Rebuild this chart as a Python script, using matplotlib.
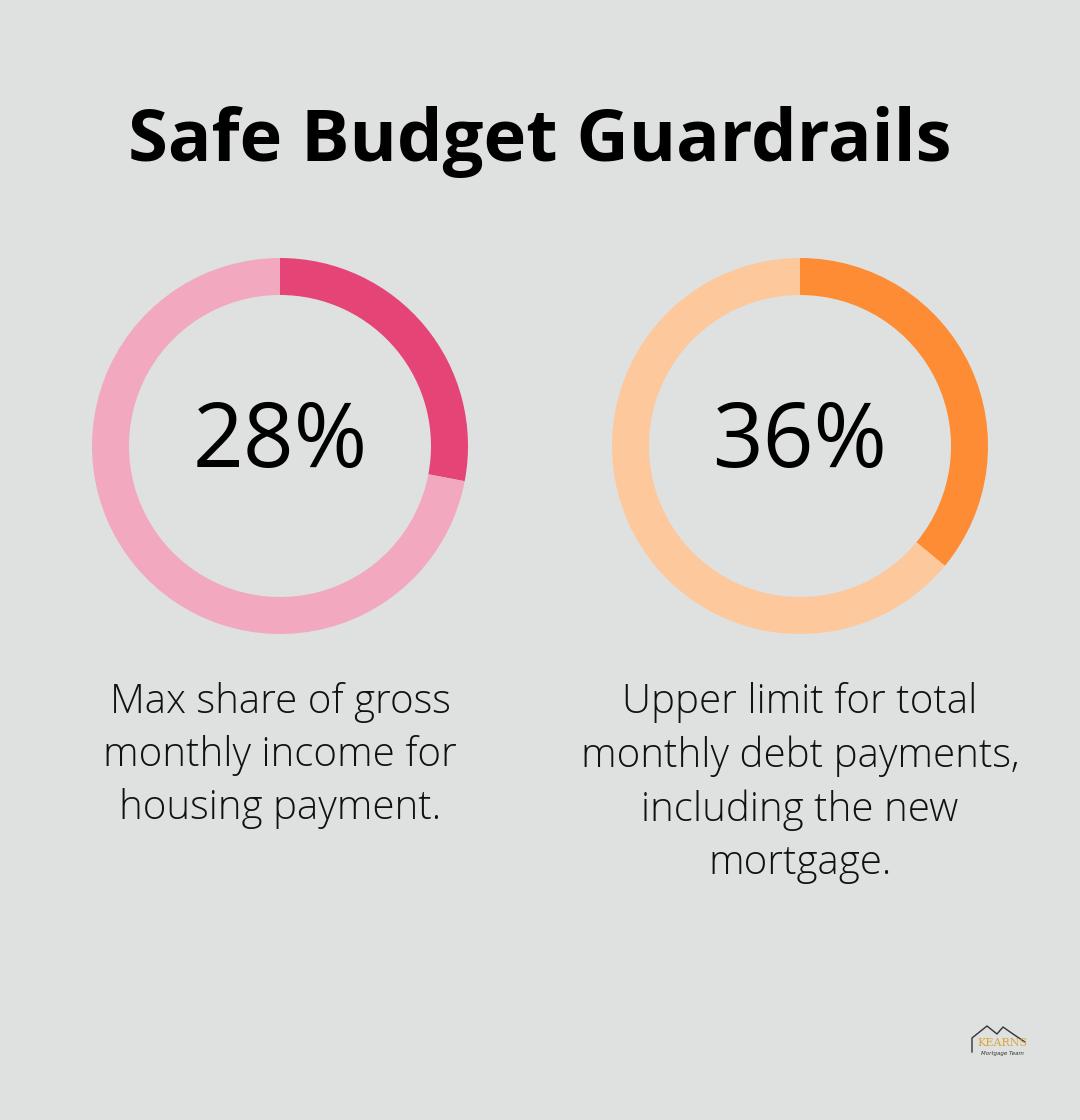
import matplotlib.pyplot as plt

# chart data
title = "Safe Budget Guardrails"
values = [28, 36]
labels = ["Max share of gross\nmonthly income for\nhousing payment.",
          "Upper limit for total\nmonthly debt payments,\nincluding the new\nmortgage."]
dark_colors = ["#E44476", "#FD8C35"]
light_colors = ["#F2A8BF", "#FEC89D"]
centers_x = [280, 800]

W, H = 1080, 1120
bg = "#DFE1E0"

fig = plt.figure(figsize=(W / 100, H / 100), dpi=100, facecolor=bg)
ax = fig.add_axes([0, 0, 1, 1])
ax.set_facecolor(bg)

ring_y = H - 446
R = 188
width = 37

for i, v in enumerate(values):
    ax.pie([v, 100 - v], colors=[dark_colors[i], light_colors[i]],
           startangle=90, counterclock=False, radius=R,
           center=(centers_x[i], ring_y),
           wedgeprops=dict(width=width, linewidth=0))
    ax.text(centers_x[i], ring_y + 2, f"{v}%", ha="center", va="center",
            fontsize=64, family="Open Sans", color="black")
    ax.text(centers_x[i], H - 682, labels[i], ha="center", va="top",
            fontsize=29, family="Open Sans", fontweight="light",
            color="#111111", linespacing=1.39)

ax.text(W / 2, H - 142, title, ha="center", va="center", fontsize=52,
        family="Open Sans", fontweight="bold", color="black")

# small logo bottom right
hx = [972, 972, 987, 997, 1003, 1013, 1025]
hy = [1052, 1038, 1026, 1034, 1027, 1034, 1042]
ax.plot(hx, [H - y for y in hy], color="#333333", lw=1)
ax.text(1002, H - 1043, "KEARNS", ha="center", va="center", fontsize=8,
        family="DejaVu Serif", color="#D9A63A")
ax.text(1002, H - 1054, "Mortgage Team", ha="center", va="center",
        fontsize=4, style="italic", color="#333333")

ax.set_xlim(0, W)
ax.set_ylim(0, H)
ax.set_aspect("auto")
ax.axis("off")

fig.savefig("out.png", dpi=100, facecolor=bg)
